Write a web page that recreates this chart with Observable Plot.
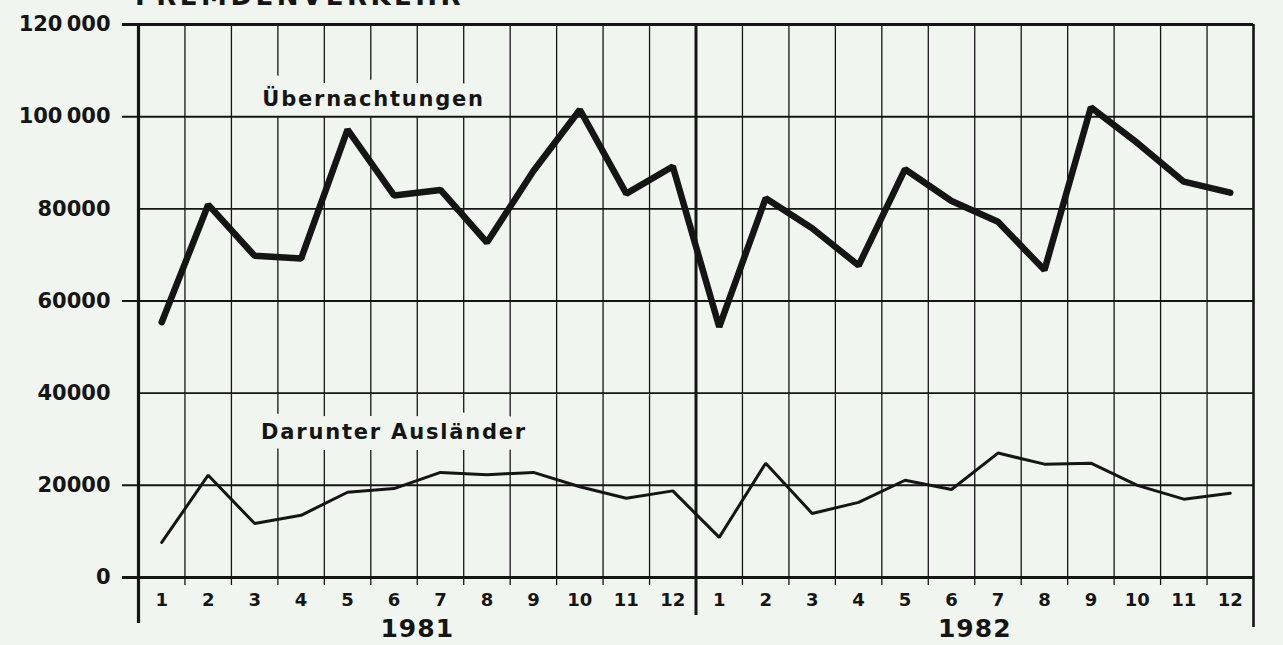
<!DOCTYPE html>
<html>
<head>
<meta charset="utf-8">
<script src="https://cdn.jsdelivr.net/npm/d3@7"></script>
<script src="https://cdn.jsdelivr.net/npm/@observablehq/plot@0.6"></script>
<style>
  html, body { margin: 0; padding: 0; background: #f1f5f0; overflow: hidden; }
  #wrap { position: relative; width: 1283px; height: 645px; }
  #title { position: absolute; left: 135px; top: -17px; font: bold 26px/26px "DejaVu Sans", sans-serif; letter-spacing: 3.5px; color: #151515; white-space: nowrap; }
  svg { display: block; }
</style>
</head>
<body>
<div id="wrap"><div id="chart"></div><div id="title">FREMDENVERKEHR</div></div>
<script>
const years = ["1981", "1982"];
const monthLabels = ["1","2","3","4","5","6","7","8","9","10","11","12"];
const uebernachtungen = [55400, 80900, 69800, 69200, 97200, 82900, 84100, 72700, 88200, 101500, 83300, 89200,
                         54400, 82300, 75800, 67700, 88600, 81700, 77200, 66700, 102000, 94300, 85900, 83500];
const auslaender = [7600, 22200, 11700, 13500, 18500, 19300, 22800, 22300, 22800, 19700, 17200, 18800,
                    8700, 24800, 13900, 16300, 21100, 19100, 27000, 24600, 24800, 20000, 17000, 18300];
const yTicks = [0, 20000, 40000, 60000, 80000, 100000, 120000];
const seriesLabels = ["Übernachtungen", "Darunter Ausländer"];

const idx = d3.range(24);
const over = idx.map(i => ({x: i + 0.5, y: uebernachtungen[i]}));
const ausl = idx.map(i => ({x: i + 0.5, y: auslaender[i]}));
const months = idx.map(i => ({x: i + 0.5, t: monthLabels[i % 12]}));
const yearData = years.map((t, i) => ({x: 6 + 12 * i, t}));
const fmt = v => v >= 100000 ? String(v).replace(/(\d{3})$/, "\u2009$1") : String(v);
const ink = "#151515";
const bg = "#f1f5f0";
const font = "'DejaVu Sans', sans-serif";

const chart = Plot.plot({
  width: 1283,
  height: 645,
  marginLeft: 138,
  marginRight: 30,
  marginTop: 24,
  marginBottom: 68,
  style: {background: bg, fontFamily: font, color: ink},
  x: {domain: [0, 24], axis: null},
  y: {domain: [0, 120000], axis: null},
  marks: [
    Plot.ruleX(d3.range(1, 24).filter(d => d !== 12), {stroke: ink, strokeWidth: 1.3, insetBottom: -8}),
    Plot.ruleY([40000, 80000], {stroke: ink, strokeWidth: 1.6}),
    Plot.text([{x: 5.06, y: 103800, t: seriesLabels[0]}], {x: "x", y: "y", text: "t", fontSize: 21, fontWeight: "bold", fill: ink, stroke: bg, strokeWidth: 22, paintOrder: "stroke", fontFamily: font}),
    Plot.text([{x: 5.5, y: 31600, t: seriesLabels[1]}], {x: "x", y: "y", text: "t", fontSize: 21, fontWeight: "bold", fill: ink, stroke: bg, strokeWidth: 22, paintOrder: "stroke", fontFamily: font}),
    Plot.ruleX([12], {stroke: ink, strokeWidth: 3, insetBottom: -38}),
    Plot.ruleX([0], {stroke: ink, strokeWidth: 3.2, insetBottom: -46}),
    Plot.ruleX([24], {stroke: ink, strokeWidth: 2.6, insetBottom: -50}),
    Plot.ruleY([0], {stroke: ink, strokeWidth: 3.2, insetLeft: -16}),
    Plot.ruleY([120000], {stroke: ink, strokeWidth: 3.2, insetLeft: -16}),
    Plot.tickY(yTicks.filter(d => d % 40000 !== 0), {y: d => d, x1: 0, x2: 0, insetLeft: -16, stroke: ink, strokeWidth: 2}),
    Plot.axisY({ticks: yTicks, tickSize: 0, tickPadding: 28, tickFormat: fmt, fontSize: 21, fontWeight: "bold", label: null, fill: ink}),
    Plot.line(ausl, {x: "x", y: "y", stroke: ink, strokeWidth: 3, strokeLinejoin: "miter"}),
    Plot.line(over, {x: "x", y: "y", stroke: ink, strokeWidth: 6.5, strokeLinejoin: "miter"}),
    Plot.text(months, {x: "x", text: "t", frameAnchor: "bottom", dy: 28, fontSize: 18, fontWeight: "bold", fill: ink}),
    Plot.text(yearData, {x: "x", text: "t", frameAnchor: "bottom", dy: 59, fontSize: 25, fontWeight: "bold", fill: ink})
  ]
});
// slight letter spacing for the wide-set lettering of the original
d3.select(chart).selectAll("text").each(function() {
  const t = this.textContent;
  const g = this.closest("g");
  const label = g ? g.getAttribute("aria-label") : "";
  let s = 0;
  if (label && label.includes("y-axis")) s = 0;
  else if (seriesLabels.includes(t)) s = 1.8;
  else if (years.includes(t)) s = 1;
  if (s) this.style.letterSpacing = s + "px";
});
document.getElementById("chart").appendChild(chart);
</script>
</body>
</html>
